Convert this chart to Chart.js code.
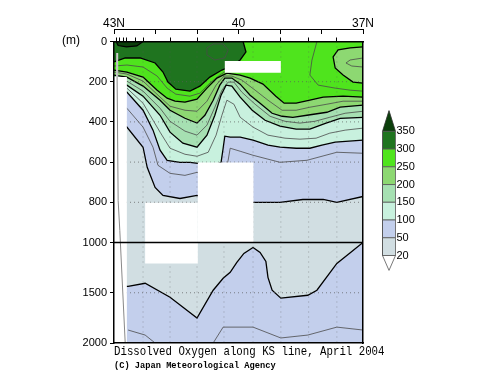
<!DOCTYPE html>
<html><head><meta charset="utf-8">
<script src="https://cdn.jsdelivr.net/npm/chart.js@4.4.0/dist/chart.umd.min.js"></script>
<style>
html,body{margin:0;padding:0;background:#fff;}
#wrap{position:relative;width:500px;height:387px;overflow:hidden;}
#main{position:absolute;left:0;top:0;}
#bar{position:absolute;left:377px;top:103px;}
#unit{position:absolute;left:62px;top:33px;font:12px "Liberation Sans",Arial,sans-serif;color:#000;}
#ttl{position:absolute;left:114px;top:344px;font:13.5px "Liberation Mono",monospace;color:#000;white-space:nowrap;transform-origin:0 0;transform:scaleX(0.795);line-height:16px;}
#cpy{position:absolute;left:114px;top:361px;font:bold 8.7px "Liberation Mono",monospace;color:#000;white-space:nowrap;line-height:11px;}
</style></head><body>
<div id="wrap">
<canvas id="main" width="500" height="387"></canvas>
<canvas id="bar" width="55" height="175"></canvas>
<div id="unit">(m)</div>
<div id="ttl">Dissolved Oxygen along KS line, April 2004</div>
<div id="cpy">(C) Japan Meteorological Agency</div>
</div>
<script>
// ---------- axis data ----------
const latTicks = [43, 42, 41, 40, 39, 38, 37];
const latLabels = {43: '43N', 40: '40', 37: '37N'};
const depthTicks = [0, 200, 400, 600, 800, 1000, 1500, 2000];
const gridDepths = [200, 400, 600, 800, 1500];
const stationLats = [42.93, 42.86, 42.77, 42.69, 42.49, 42.30, 41.65, 41.00, 40.35, 39.65, 38.98, 38.31, 37.63];

// ---------- contour lines [lat, depth(m)] ----------
const c350 = [[42.95,0],[42.90,20],[42.70,27],[42.45,22],[42.30,0]];
const c300 = [[43.00,102],[42.73,82],[42.37,82],[42.01,107],[41.82,152],[41.70,202],[41.51,237],[41.17,247],[40.93,222],[40.69,177],[40.40,142],[40.16,122],[39.96,92],[39.82,52],[39.89,0]];
const c250 = [[43.00,142],[42.69,152],[42.30,177],[41.96,242],[41.72,282],[41.53,297],[41.29,302],[41.00,287],[40.76,232],[40.52,182],[40.28,157],[39.96,167],[39.72,182],[39.41,212],[39.10,272],[38.90,307],[38.61,307],[38.28,292],[37.96,277],[37.48,272],[37.00,277]];
const c250patch = [[37.00,207],[37.24,202],[37.48,167],[37.67,132],[37.72,77],[37.60,42],[37.31,32],[37.00,27]];
const c200 = [[43.00,167],[42.69,177],[42.30,222],[41.89,292],[41.65,342],[41.29,382],[41.00,406],[40.81,367],[40.61,292],[40.45,217],[40.33,182],[40.16,182],[39.96,212],[39.72,267],[39.48,307],[39.19,357],[38.95,372],[38.69,377],[38.35,367],[37.87,352],[37.55,327],[37.00,317]];
const c150 = [[43.00,192],[42.69,217],[42.30,272],[41.89,367],[41.65,451],[41.34,506],[41.00,526],[40.76,466],[40.57,367],[40.42,267],[40.30,217],[40.16,222],[39.96,277],[39.67,342],[39.36,392],[39.00,421],[38.61,436],[38.28,436],[37.89,406],[37.55,382],[37.00,377]];
const c100 = [[43.00,232],[42.69,252],[42.30,342],[42.06,441],[41.89,541],[41.72,591],[41.41,601],[41.17,601],[40.98,606],[40.69,631],[40.42,601],[40.37,531],[40.33,471],[40.20,476],[39.96,476],[39.65,491],[39.29,516],[39.00,526],[38.61,531],[38.28,531],[37.99,516],[37.67,501],[37.00,491]];
const c50 = [[43.00,392],[42.69,426],[42.30,526],[42.20,626],[42.01,726],[41.82,766],[41.41,781],[41.00,766],[40.57,791],[39.96,805],[39.65,800],[39.00,800],[38.45,786],[37.96,786],[37.63,800],[37.00,771]];
const c50deep = [[43.00,1436],[42.66,1436],[42.25,1406],[41.65,1545],[41.00,1752],[40.61,1475],[40.37,1356],[40.20,1297],[40.04,1198],[39.87,1109],[39.65,1050],[39.48,1099],[39.34,1188],[39.29,1347],[39.19,1475],[38.98,1554],[38.33,1525],[38.11,1475],[37.63,1208],[37.24,1079],[37.00,1000]];

// thin (intermediate) contours
const t275a = [[43.00,122],[42.69,117],[42.30,127],[41.96,172],[41.72,232],[41.51,262],[41.17,272],[40.93,257],[40.69,207],[40.45,167],[40.30,147]];
const t275b = [[38.11,0],[38.23,92],[38.28,167],[38.08,217],[37.67,232],[37.31,242],[37.00,247]];
const t325 = [[40.76,32],[40.61,12],[40.37,12],[40.25,42],[40.33,82],[40.57,92],[40.76,67],[40.76,32]];
const t225 = [[43.00,152],[42.69,162],[42.30,197],[41.94,267],[41.65,322],[41.29,342],[41.00,347],[40.76,297],[40.54,217],[40.35,172],[40.16,172],[39.92,192],[39.60,242],[39.29,292],[38.95,342],[38.61,342],[38.28,327],[37.87,312],[37.48,297],[37.00,297]];
const t225patch = [[37.00,82],[37.31,92],[37.41,107],[37.27,122],[37.00,127]];
const t175 = [[42.69,197],[42.30,247],[41.89,332],[41.65,397],[41.29,446],[41.00,466],[40.76,416],[40.57,327],[40.40,242],[40.25,202],[40.11,202],[39.92,252],[39.60,312],[39.24,372],[38.88,397],[38.52,406],[38.16,397],[37.80,377],[37.43,357],[37.00,347]];
const t125 = [[42.69,232],[42.30,307],[41.89,451],[41.65,531],[41.29,561],[41.00,571],[40.73,551],[40.54,466],[40.40,367],[40.28,292],[40.11,312],[39.96,377],[39.65,426],[39.29,466],[38.88,481],[38.52,486],[38.13,481],[37.80,456],[37.43,441],[37.00,431]];
const t75 = [[43.00,292],[42.69,332],[42.30,426],[42.06,526],[41.94,616],[41.65,656],[41.29,666],[41.00,651],[40.64,681],[40.30,631],[40.25,591],[40.20,531],[39.96,546],[39.65,566],[39.00,601],[38.35,591],[37.63,551],[37.00,556]];
const t75deepA = [[42.66,1871],[42.25,1921],[42.01,2000]];
const t75deepB = [[40.61,2000],[40.37,1842],[39.65,1842],[38.98,1950],[38.33,1921],[37.63,1842],[37.00,1871]];

// areas without data (blank)
const maskLeft = [[42.95,57],[42.90,57],[42.90,177],[42.69,177],[42.69,2000],[43.00,2000],[43.00,177],[42.95,177]];
const maskA = [[42.25,802],[40.98,802],[40.98,1208],[42.25,1208]];
const maskB = [[40.98,602],[39.64,602],[39.64,1000],[40.98,1000]];
const maskC = [[40.33,97],[38.98,97],[38.98,156],[40.33,156]];
const bottomLine = [[42.93,57],[42.90,791],[42.86,940],[42.73,2000]];

// colour scale
const legendLevels = [20, 50, 100, 150, 200, 250, 300, 350];
const bandColors = ['#d1dee2', '#c3cfec', '#c8f1de', '#a6e0b2', '#8dd872', '#4fe41d', '#1f741f'];
const topColor = '#0b3f0b';

// ---------- helpers ----------
const LAT0 = 43, LAT1 = 37, DMAX = 2000;
function ty(d) { return d <= 1000 ? d : 1000 + (d - 1000) / 2; }
function pts(arr) { return arr.map(p => ({x: p[0], y: ty(p[1])})); }
function poly(arr, color) {
  return {data: pts(arr), fill: 'shape', backgroundColor: color, borderColor: 'rgba(0,0,0,0)', borderWidth: 0, pointRadius: 0, tension: 0};
}
function line(arr, w, color, dash) {
  return {data: pts(arr), fill: false, borderColor: color, borderWidth: w, pointRadius: 0, tension: 0, borderDash: dash || []};
}
const surf = [[LAT1, 0], [LAT0, 0]];

const ds = [];
ds.push(poly([[LAT0,0],[LAT1,0],[LAT1,DMAX],[LAT0,DMAX]], bandColors[0]));
ds.push(poly(c50.concat(surf), bandColors[1]));
ds.push(poly(c50deep.concat([[LAT1,DMAX],[LAT0,DMAX]]), bandColors[1]));
ds.push(poly(c100.concat(surf), bandColors[2]));
ds.push(poly(c150.concat(surf), bandColors[3]));
ds.push(poly(c200.concat(surf), bandColors[4]));
ds.push(poly(c250.concat(c250patch, surf), bandColors[5]));
ds.push(poly(c300.concat([[LAT0,0]]), bandColors[6]));
ds.push(poly(c350, topColor));
// thin contours
const thinC = '#4a4a4a';
[t275a, t275b, t325, t225, t225patch, t175, t125, t75, t75deepA, t75deepB].forEach(a => ds.push(line(a, 0.8, thinC)));
// thick contours
[c350, c300, c250, c250patch, c200, c150, c100, c50, c50deep].forEach(a => ds.push(line(a, 1.3, '#000')));
// dotted grid
gridDepths.forEach(d => ds.push(line([[LAT0,d],[LAT1,d]], 1, 'rgba(90,90,90,0.7)', [1,3])));
stationLats.slice(5).forEach(l => ds.push(line([[l,0],[l,DMAX]], 1, 'rgba(90,90,90,0.45)', [1,4])));
// blanks
[maskLeft, maskA, maskB, maskC].forEach(a => ds.push(poly(a, '#ffffff')));
ds.push(line(bottomLine, 1, '#888'));
ds.push(line([[LAT0,1000],[LAT1,1000]], 1.6, '#000'));
ds.forEach((d, i) => { d.order = ds.length - i; d.clip = 0; });

const axisFont = {family: '"Liberation Sans", Arial, sans-serif', size: 12};

new Chart(document.getElementById('main'), {
  type: 'line',
  data: {datasets: ds},
  options: {
    responsive: false, animation: false, events: [],
    layout: {padding: {left: 0, right: 137, top: 0, bottom: 44}},
    plugins: {legend: {display: false}, tooltip: {enabled: false}},
    scales: {
      x: {type: 'linear', position: 'top', min: LAT1, max: LAT0, reverse: true, weight: 1,
        afterBuildTicks: s => { s.ticks = stationLats.map(v => ({value: v})); },
        afterFit: s => { s.height = 12.5; },
        ticks: {display: false},
        grid: {drawOnChartArea: false, drawTicks: true, tickLength: 4, color: '#000', lineWidth: 1},
        border: {display: true, color: '#000', width: 1.5, z: 2}},
      xTop: {type: 'linear', position: 'top', min: LAT1, max: LAT0, reverse: true, weight: 2,
        afterBuildTicks: s => { s.ticks = latTicks.map(v => ({value: v})); },
        afterFit: s => { s.height = 29; },
        ticks: {callback: v => latLabels[v] || '', font: axisFont, color: '#000', padding: 3, maxRotation: 0, autoSkip: false},
        grid: {drawOnChartArea: false, drawTicks: true, tickLength: -5, color: '#000', lineWidth: 1},
        border: {display: true, color: '#000', width: 1}},
      xB: {type: 'linear', position: 'bottom', min: LAT1, max: LAT0, reverse: true, weight: 0,
        afterFit: s => { s.height = 0; },
        ticks: {display: false}, grid: {display: false, drawTicks: false},
        border: {display: true, color: '#000', width: 1.5, z: 2}},
      y: {type: 'linear', position: 'left', min: 0, max: ty(DMAX), reverse: true,
        afterBuildTicks: s => { s.ticks = depthTicks.map(v => ({value: ty(v)})); },
        afterFit: s => { s.width = 114; },
        ticks: {callback: (v, i) => String(depthTicks[i]), font: {family: axisFont.family, size: 11}, color: '#000', padding: 3, autoSkip: false},
        grid: {drawOnChartArea: false, drawTicks: true, tickLength: 4, color: '#000'},
        border: {display: true, color: '#000', width: 1.5, z: 2}},
      yR: {type: 'linear', position: 'right', min: 0, max: ty(DMAX), reverse: true,
        afterFit: s => { s.width = 0; },
        ticks: {display: false}, grid: {display: false, drawTicks: false},
        border: {display: true, color: '#000', width: 1.5, z: 2}}
    }
  }
});

// ---------- colour bar ----------
const TRI_TOP = 8.17, TRI_BOT = -0.84;
const bds = [];
bandColors.forEach((c, k) => bds.push({data: [{x:0,y:k},{x:1,y:k},{x:1,y:k+1},{x:0,y:k+1},{x:0,y:k}], fill: 'shape', backgroundColor: c, borderColor: '#555', borderWidth: 0.8, pointRadius: 0, tension: 0}));
bds.push({data: [{x:0,y:7},{x:1,y:7},{x:0.5,y:TRI_TOP},{x:0,y:7}], fill: 'shape', backgroundColor: topColor, borderColor: '#333', borderWidth: 0.8, pointRadius: 0, tension: 0});
bds.push({data: [{x:0,y:0},{x:1,y:0},{x:0.5,y:TRI_BOT},{x:0,y:0}], fill: 'shape', backgroundColor: '#ffffff', borderColor: '#555', borderWidth: 0.8, pointRadius: 0, tension: 0});
bds.forEach(d => { d.clip = 3; });

new Chart(document.getElementById('bar'), {
  type: 'line',
  data: {datasets: bds},
  options: {
    responsive: false, animation: false, events: [],
    layout: {padding: {left: 5.5, top: 4, bottom: 5, right: 0}},
    plugins: {legend: {display: false}, tooltip: {enabled: false}},
    scales: {
      x: {type: 'linear', min: 0, max: 1, display: false},
      y: {type: 'linear', position: 'right', min: TRI_BOT, max: TRI_TOP,
        afterBuildTicks: s => { s.ticks = legendLevels.map((v, i) => ({value: i})); },
        afterFit: s => { s.width = 36.5; },
        ticks: {callback: v => String(legendLevels[Math.round(v)]), font: {family: axisFont.family, size: 11}, color: '#000', padding: 1, autoSkip: false},
        grid: {display: false, drawTicks: false},
        border: {display: false}}
    }
  }
});
</script>
</body></html>
